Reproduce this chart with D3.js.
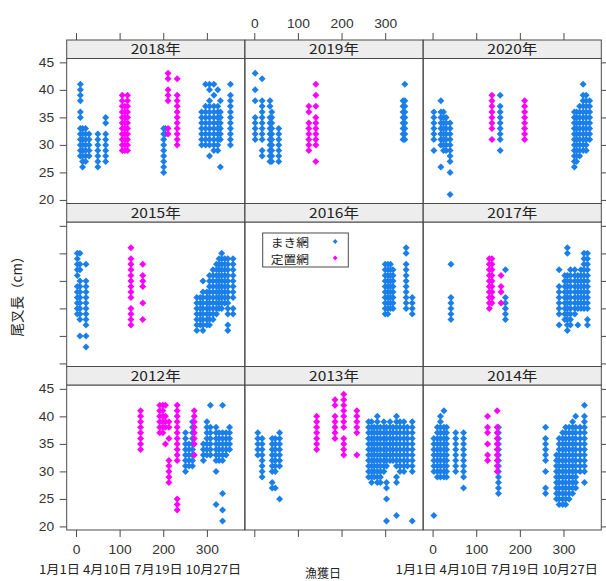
<!DOCTYPE html>
<html>
<head>
<meta charset="utf-8">
<script src="https://cdn.jsdelivr.net/npm/d3@7"></script>
<style>
  body { margin: 0; background: #fff; }
  svg { display: block; }
</style>
</head>
<body>
<svg id="chart" width="606" height="581"></svg>
<script>
// Panels, left to right and top to bottom
const panelYears = [2018, 2019, 2020, 2015, 2016, 2017, 2012, 2013, 2014];
const gearNames = ["まき網", "定置網"];
const gearColors = ["#1a7fe9", "#ff00ff"];
const xTickValues = [0, 100, 200, 300];
const yTickValues = [20, 25, 30, 35, 40, 45];
const dateTickLabels = ["1月1日", "4月10日", "7月19日", "10月27日"];

// Each entry: [day of year caught, [fork lengths in cm]]
const maki2012 = [
  [251, [37, 36, 35, 34, 33, 32, 31, 30]],
  [259, [35, 34, 33, 32, 31]],
  [267, [39, 38, 37, 36, 35, 34, 33, 32, 31]],
  [292, [35, 34, 33, 32]],
  [300, [39, 38, 37, 36, 35, 34, 33]],
  [308, [42, 38, 37, 36, 35, 34, 33]],
  [321, [38, 37, 36, 35, 34, 33, 32, 30, 24]],
  [328, [37, 36, 35, 34, 33, 32]],
  [336, [42, 37, 36, 35, 34, 33, 32, 26, 23, 21]],
  [344, [37, 36, 35, 34, 33]],
  [352, [38, 37, 36, 35, 34]]
];
const teichi2012 = [
  [148, [41, 40, 39, 38, 37, 36, 35, 34]],
  [192, [42, 41, 40, 39, 38, 37]],
  [199, [42, 41, 40, 39, 38, 37]],
  [205, [42, 40, 39, 38, 35]],
  [213, [39, 38, 36, 32, 31, 30, 29, 28]],
  [232, [42, 41, 40, 39, 38, 37, 36, 35, 34, 33, 32, 25, 24, 23]],
  [271, [41, 40, 39, 38, 37, 36, 35, 33]]
];

const maki2013 = [
  [8, [37, 36, 35, 34, 33]],
  [18, [36, 35, 34, 33, 32, 31, 30, 29]],
  [41, [36, 35, 34, 33, 32, 31, 30, 28, 27]],
  [48, [36, 35, 34, 33, 32, 31, 30, 27]],
  [58, [37, 36, 35, 34, 33, 32, 31, 25]],
  [262, [39, 38, 37, 36, 35, 34, 33, 32, 31, 30, 29]],
  [269, [39, 38, 37, 36, 35, 34, 33, 32, 31, 30, 29, 28]],
  [275, [38, 37, 36, 35, 34, 33, 32, 31, 30, 29]],
  [282, [40, 39, 38, 37, 36, 35, 34, 33, 32, 31, 30, 29, 28]],
  [289, [38, 37, 36, 35, 34, 33, 32, 31, 30, 29, 28]],
  [297, [39, 38, 37, 36, 35, 34, 33, 32, 31, 30]],
  [303, [38, 37, 36, 35, 34, 33, 32, 31, 28, 27, 25, 21]],
  [311, [39, 38, 37, 36, 35, 34, 33, 32]],
  [318, [38, 37, 36, 35, 34, 33, 32]],
  [326, [40, 39, 38, 37, 36, 35, 34, 33, 32, 31, 29, 28, 22]],
  [334, [39, 38, 37, 36, 35, 34, 33, 32, 31, 30]],
  [343, [39, 38, 37, 36, 35, 34, 33, 32, 31, 30]],
  [351, [38, 37, 36, 35, 34, 33, 32, 31]],
  [362, [39, 38, 37, 36, 35, 34, 33, 32, 31, 30, 21]]
];
const teichi2013 = [
  [143, [40, 39, 38, 37, 36, 35, 34]],
  [185, [43, 42, 40, 39, 38, 37, 36]],
  [205, [44, 43, 42, 41, 40, 39, 38, 36, 35, 34, 33]],
  [235, [41, 40, 39, 38, 37, 33]]
];

const maki2014 = [
  [3, [36, 35, 34, 33, 32, 31, 30, 22]],
  [11, [38, 37, 36, 35, 34, 33, 32, 31, 30, 29]],
  [18, [40, 39, 38, 37, 36, 35, 34, 33, 32, 31, 30, 29]],
  [26, [41, 38, 37, 36, 35, 34, 33, 32, 31, 30, 29]],
  [32, [38, 37, 36, 35, 34, 33, 32, 31, 30, 29]],
  [53, [37, 36, 35, 34, 33, 32, 31, 30]],
  [71, [37, 36, 35, 34, 33, 32, 31, 30, 29, 27]],
  [151, [38, 37, 36, 35, 34, 33, 32, 31, 30, 29, 28, 27, 26]],
  [259, [38, 36, 35, 34, 33, 32, 30, 27, 26]],
  [284, [33, 32, 31, 30, 29, 28, 27, 26, 25]],
  [290, [36, 35, 34, 33, 32, 31, 30, 29, 28, 27, 26, 25, 24]],
  [298, [37, 36, 35, 34, 33, 32, 31, 30, 29, 28, 27, 26, 25, 24]],
  [305, [38, 37, 36, 35, 34, 33, 32, 31, 30, 29, 28, 27, 26, 25, 24]],
  [313, [38, 37, 36, 35, 34, 33, 32, 31, 30, 29, 28, 27, 26, 25]],
  [321, [39, 38, 37, 36, 35, 34, 33, 32, 31, 30, 29, 28, 27, 26]],
  [328, [40, 38, 37, 36, 35, 34, 33, 32, 31, 30, 29, 28, 27]],
  [338, [38, 37, 36, 35, 34, 33, 32, 31, 30]],
  [348, [42, 40, 39, 38, 37, 36, 35, 34, 33, 32, 31, 30, 28]]
];
const teichi2014 = [
  [126, [40, 38, 37, 35, 33, 32]],
  [148, [41, 38, 37, 36, 35, 34, 33, 32, 31, 30]]
];

const maki2015 = [
  [3, [40, 39, 38, 37, 36, 34, 33, 32, 31, 30, 29]],
  [9, [40, 38, 37, 35, 34, 33, 32, 31, 30, 29, 28, 25]],
  [23, [38, 35, 34, 33, 32, 31, 30, 29, 28, 27, 25, 23]],
  [277, [32, 31, 30, 29, 28, 27, 26]],
  [285, [32, 31, 30, 29, 28, 27]],
  [291, [35, 33, 32, 31, 30, 29, 28, 27, 26]],
  [300, [33, 32, 31, 30, 29, 28, 27]],
  [306, [36, 35, 34, 33, 32, 31, 30, 29, 28, 27]],
  [314, [37, 36, 35, 34, 33, 32, 31, 30, 29, 28]],
  [322, [38, 37, 36, 35, 34, 33, 32, 31, 30, 29]],
  [328, [39, 38, 37, 36, 35, 34, 33, 32, 31, 30]],
  [334, [40, 39, 38, 37, 36, 35, 34, 33, 32, 31, 30]],
  [341, [39, 38, 37, 36, 35, 34, 33, 32, 31]],
  [348, [39, 38, 37, 36, 35, 34, 33, 32, 31, 30, 29, 27, 26]],
  [360, [39, 38, 37, 36, 35, 34, 33, 32, 30, 29]]
];
const teichi2015 = [
  [126, [41, 39, 38, 37, 36, 35, 34, 33, 32, 30, 29, 28, 27]],
  [153, [38, 36, 35, 34, 31, 28]]
];

const maki2016 = [
  [300, [38, 37, 36, 35, 34, 33, 32, 31, 30, 29]],
  [306, [38, 37, 36, 35, 34, 33, 32, 31, 30, 29]],
  [312, [38, 37, 36, 35, 34, 33, 32, 31, 30]],
  [318, [37, 36, 35, 34, 33, 32, 31, 30]],
  [348, [41, 40, 38, 37, 36, 35, 34, 33, 32, 31, 30]],
  [362, [32, 31, 30, 29]]
];
const teichi2016 = [];

const maki2017 = [
  [42, [38, 32, 31, 30, 29, 28]],
  [167, [37, 32, 31, 30, 29, 28]],
  [290, [37, 34, 33, 32, 31, 30, 29, 27]],
  [303, [36, 35, 34, 33, 32, 31, 30, 29, 28]],
  [309, [41, 40, 36, 35, 34, 33, 32, 31, 30, 29, 28, 27, 26]],
  [316, [37, 36, 35, 34, 33, 32, 31, 30, 29, 28, 27]],
  [326, [37, 36, 35, 34, 33, 32, 31, 30, 29]],
  [333, [36, 35, 34, 33, 32, 31, 30, 27]],
  [340, [37, 36, 35, 34, 33, 32, 31, 30]],
  [347, [40, 39, 38, 37, 36, 35, 34, 33, 32, 31, 30]],
  [355, [40, 39, 38, 37, 36, 35, 34, 33, 32, 31, 30, 28, 27]]
];
const teichi2017 = [
  [130, [39, 38, 37, 36, 35, 34, 33, 32, 31, 30]],
  [136, [39, 38, 37, 36, 35, 34, 33, 32, 31]],
  [157, [36, 34, 33, 31]]
];

const maki2018 = [
  [10, [41, 40, 39, 38, 36, 35, 33, 32, 31, 30, 29, 28]],
  [15, [33, 32, 31, 30, 29, 28, 27, 26]],
  [22, [33, 32, 31, 30, 29, 28, 27]],
  [30, [32, 31, 30, 29, 28]],
  [50, [32, 31, 30, 29, 28, 27, 26]],
  [68, [35, 34, 32, 31, 30, 29, 28, 27]],
  [201, [33, 32, 31, 30, 29, 28, 27, 26, 25]],
  [205, [33, 32]],
  [288, [36, 35, 34, 33, 32, 31, 30]],
  [297, [41, 37, 36, 35, 34, 33, 32, 31, 30]],
  [306, [41, 40, 38, 37, 36, 35, 34, 33, 32, 31, 30, 28]],
  [316, [41, 39, 37, 36, 35, 34, 33, 32, 31, 30, 29]],
  [325, [40, 37, 36, 35, 34, 33, 32, 31, 30, 29]],
  [331, [38, 36, 35, 34, 33, 32, 31, 26]],
  [354, [41, 39, 38, 37, 36, 35, 34, 33, 32, 31, 30]]
];
const teichi2018 = [
  [106, [39, 38, 37, 36, 35, 34, 33, 32, 31, 30, 29]],
  [112, [37, 36, 35, 34, 33, 32, 31, 30, 29]],
  [118, [39, 38, 37, 36, 35, 34, 33, 32, 31, 30, 29]],
  [211, [43, 42, 40, 39, 38, 33, 32]],
  [232, [42, 39, 38, 37, 36, 35, 34, 33, 32, 31, 30]]
];

const maki2019 = [
  [2, [43, 40, 38, 35, 34, 33, 32, 31]],
  [18, [42, 38, 37, 36, 35, 34, 33, 32, 31, 29, 28]],
  [36, [38, 37, 35, 34, 33, 32, 31, 30, 29, 28, 27]],
  [40, [36, 35, 34, 33, 32, 31, 30, 29, 28, 27]],
  [56, [33, 32, 31, 30, 29, 28, 27]],
  [341, [38, 37, 36, 35, 34, 33, 32, 31]],
  [345, [41, 38, 37, 36, 35, 34, 33, 32, 31]]
];
const teichi2019 = [
  [125, [37, 36, 34, 33, 32, 31, 30, 29]],
  [141, [41, 39, 37, 35, 34, 33, 32, 31, 30, 27]]
];

const maki2020 = [
  [3, [36, 35, 34, 33, 32, 31, 29]],
  [19, [38, 36, 35, 34, 33, 32, 31, 30, 26]],
  [25, [36, 35, 34, 33, 32, 31, 30, 29]],
  [31, [35, 34, 33, 32, 31, 30, 29]],
  [40, [34, 33, 32, 31, 30, 29, 28, 27, 25, 21]],
  [155, [39, 37, 36, 35, 34, 33, 32, 31, 29]],
  [325, [36, 35, 34, 33, 32, 31, 30, 29, 28, 27, 26]],
  [330, [36, 35, 34, 33, 32, 31, 30, 29, 28, 27]],
  [337, [37, 36, 35, 34, 33, 32, 31, 30, 29, 28]],
  [345, [41, 39, 38, 37, 36, 35, 34, 33, 32, 31, 30, 29]],
  [352, [39, 38, 37, 36, 35, 34, 33, 32, 31, 30, 29]],
  [360, [38, 37, 36, 35, 34, 33, 32, 31]]
];
const teichi2020 = [
  [136, [39, 38, 37, 36, 35, 34, 33, 31]],
  [211, [38, 37, 36, 35, 34, 33, 32, 31]]
];

const seriesByYear = {
  2012: [maki2012, teichi2012], 2013: [maki2013, teichi2013], 2014: [maki2014, teichi2014],
  2015: [maki2015, teichi2015], 2016: [maki2016, teichi2016], 2017: [maki2017, teichi2017],
  2018: [maki2018, teichi2018], 2019: [maki2019, teichi2019], 2020: [maki2020, teichi2020]
};

// ---- layout ----
const colLeft = [66.7, 245, 423.3];
const panelW = 178;
const rowTop = [40, 203.5, 366.5];
const stripH = 18.5;
const plotH = 145;
const frameColor = "#4a4a4a";
const textColor = "#333";
const numFont = "'Liberation Sans', Arial, sans-serif";
const jpFont = "'Noto Sans CJK JP', 'Noto Sans', sans-serif";
const stretch = 1.15;

const x = d3.scaleLinear().domain([-21.3, 386.7]).range([0, panelW]);
const y = d3.scaleLinear().domain([19.35, 45.7]).range([plotH, 0]);

const svg = d3.select("#chart");

const diamond = r => `M0,${-r}L${r},0L0,${r}L${-r},0Z`;

function styleAxis(g, showLabels) {
  g.select(".domain").remove();
  g.selectAll(".tick line").attr("stroke", frameColor);
  g.selectAll(".tick text")
    .attr("fill", textColor)
    .style("font-family", numFont)
    .style("font-size", "12px")
    .style("display", showLabels ? null : "none")
    .attr("transform", `scale(${stretch},1)`);
}

panelYears.forEach((year, i) => {
  const col = i % 3, row = Math.floor(i / 3);
  const px = colLeft[col], sy = rowTop[row], py = sy + stripH;
  const g = svg.append("g").attr("transform", `translate(${px},${py})`);

  // points: まき網 first, 定置網 on top
  seriesByYear[year].forEach((series, s) => {
    const pts = series.flatMap(([day, lens]) => lens.map(len => ({ day, len })));
    g.append("g").selectAll("path")
      .data(pts)
      .join("path")
      .attr("d", diamond(3.5))
      .attr("transform", d => `translate(${x(d.day)},${y(d.len)})`)
      .attr("fill", gearColors[s]);
  });

  // panel frame
  g.append("rect")
    .attr("width", panelW).attr("height", plotH)
    .attr("fill", "none").attr("stroke", frameColor).attr("stroke-width", 1);

  // strip
  const strip = svg.append("g").attr("transform", `translate(${px},${sy})`);
  strip.append("rect")
    .attr("width", panelW).attr("height", stripH)
    .attr("fill", "#ededed").attr("stroke", frameColor).attr("stroke-width", 1);
  strip.append("text")
    .attr("transform", `translate(${panelW / 2},${stripH / 2 + 5}) scale(${stretch},1)`)
    .attr("text-anchor", "middle")
    .attr("fill", "#222")
    .style("font-family", jpFont)
    .style("font-size", "13.5px")
    .text(`${year}年`);

  // left axis on the first column
  if (col === 0) {
    svg.append("g")
      .attr("transform", `translate(${px},${py})`)
      .call(d3.axisLeft(y).tickValues(yTickValues).tickSize(7).tickPadding(4))
      .call(a => styleAxis(a, row !== 1));
  }
  // right axis on the last column (ticks only)
  if (col === 2) {
    svg.append("g")
      .attr("transform", `translate(${px + panelW},${py})`)
      .call(d3.axisRight(y).tickValues(yTickValues).tickSize(7))
      .call(a => styleAxis(a, false));
  }
  // top axis above the first row
  if (row === 0) {
    svg.append("g")
      .attr("transform", `translate(${px},${sy})`)
      .call(d3.axisTop(x).tickValues(xTickValues).tickSize(7).tickPadding(5))
      .call(a => styleAxis(a, col === 1));
  }
  // bottom axis below the last row, with calendar dates under the day numbers
  if (row === 2) {
    svg.append("g")
      .attr("transform", `translate(${px},${py + plotH})`)
      .call(d3.axisBottom(x).tickValues(xTickValues).tickSize(7).tickPadding(8))
      .call(a => styleAxis(a, col !== 1));
    if (col !== 1) {
      svg.append("text")
        .attr("transform", `translate(${px + x(xTickValues[0]) - 37},574) scale(1.1,1)`)
        .attr("fill", "#222")
        .style("font-family", jpFont)
        .style("font-size", "12px")
        .style("white-space", "pre")
        .text(dateTickLabels.join(" "));
    }
  }
});

// legend inside the 2016 panel
const leg = svg.append("g").attr("transform", "translate(262.7,233)");
leg.append("rect")
  .attr("width", 85.6).attr("height", 34)
  .attr("fill", "#fff").attr("stroke", frameColor).attr("stroke-width", 1);
gearNames.forEach((name, k) => {
  leg.append("text")
    .attr("x", 7.5).attr("y", 14 + k * 17)
    .attr("fill", "#222")
    .style("font-family", jpFont)
    .style("font-size", "11.8px")
    .attr("transform", "scale(1.08,1)")
    .text(name);
  leg.append("path")
    .attr("d", diamond(2.4))
    .attr("transform", `translate(72.5,${8.5 + k * 16.5})`)
    .attr("fill", gearColors[k]);
});

// axis titles
svg.append("text")
  .attr("transform", "translate(22,293) rotate(-90)")
  .attr("text-anchor", "middle")
  .attr("fill", "#222")
  .style("font-family", jpFont)
  .style("font-size", "13.5px")
  .text("尾叉長（cm）");

svg.append("text")
  .attr("transform", "translate(323,578)")
  .attr("text-anchor", "middle")
  .attr("fill", "#222")
  .style("font-family", jpFont)
  .style("font-size", "12px")
  .text("漁獲日");
</script>
</body>
</html>
